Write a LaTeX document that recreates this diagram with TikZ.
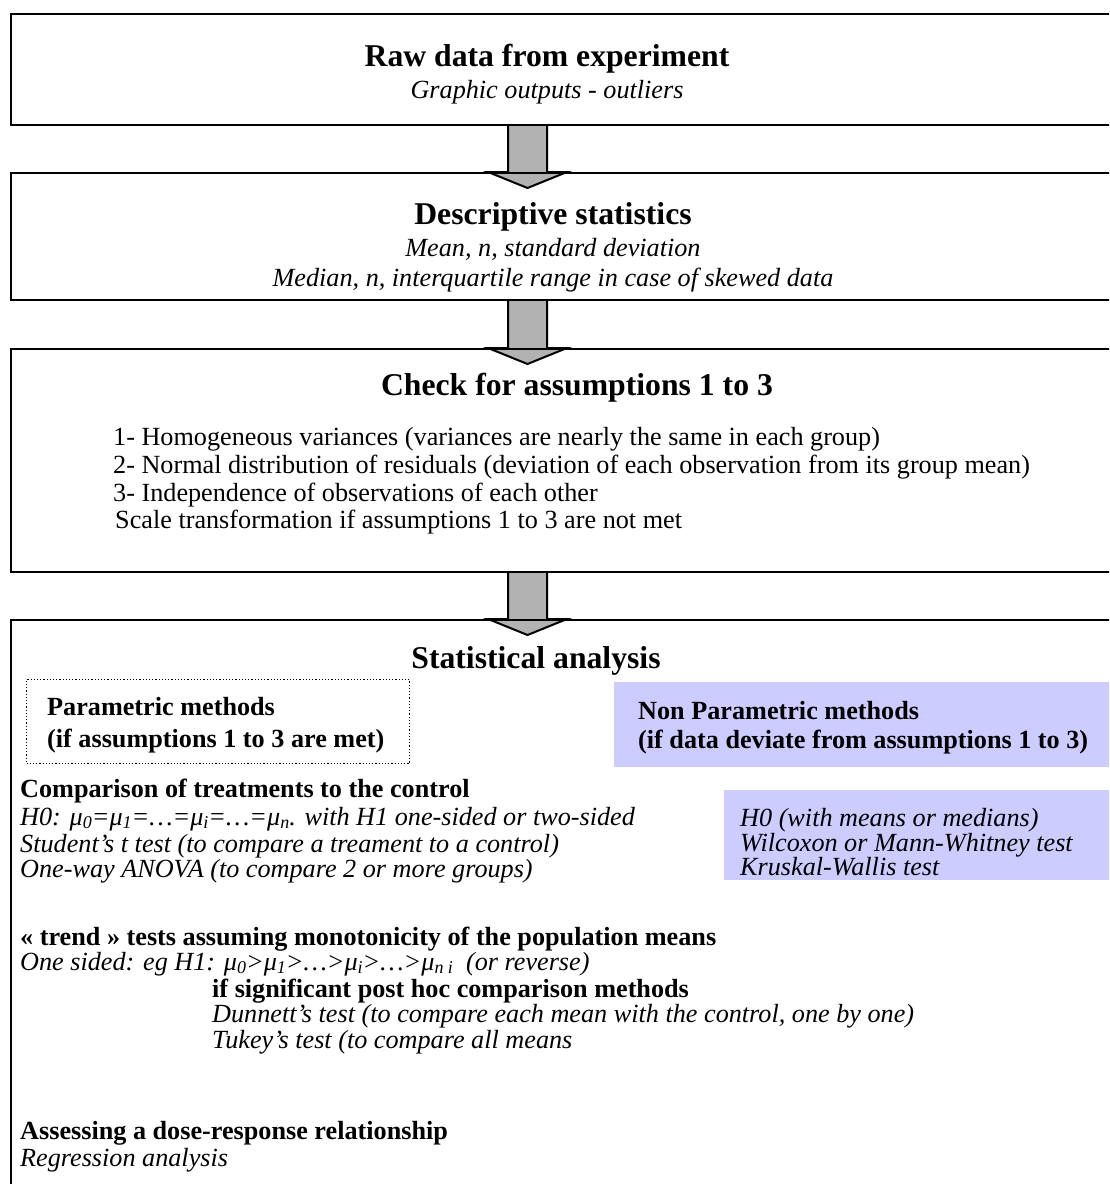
\documentclass[tikz,border=0pt]{standalone}
\usepackage{fontspec}
\setmainfont{Liberation Serif}
\usetikzlibrary{calc,backgrounds}
\definecolor{lav}{HTML}{CCCCFF}
\newcommand{\mysub}[1]{\raisebox{-0.13em}{\fontsize{18}{18}\selectfont #1}}
\begin{document}
\begin{tikzpicture}[x=1pt,y=-1pt,
  box/.style={draw, line width=2pt, minimum width=1115pt, anchor=north west, inner sep=0pt},
  head/.style={font=\fontsize{31.7}{38}\selectfont\bfseries, anchor=base, inner sep=0pt},
  ctxt/.style={font=\fontsize{26.2}{31}\selectfont\itshape, anchor=base, inner sep=0pt},
  txt/.style={font=\fontsize{26.2}{31}\selectfont, anchor=base west, inner sep=0pt},
  btxt/.style={font=\fontsize{26.2}{31}\selectfont\bfseries, anchor=base west, inner sep=0pt},
  itxt/.style={font=\fontsize{26.2}{31}\selectfont\itshape, anchor=base west, inner sep=0pt},
  blockarrow/.style={draw=black, line width=2pt, fill=gray!60, line join=miter},
  dotbox/.style={draw, dotted, line width=1.2pt, anchor=north west, inner sep=0pt},
  lavbox/.style={fill=lav, draw=none, anchor=north west, inner sep=0pt}
]
\useasboundingbox (0,0) rectangle (1109,1184);
\clip (0,0) rectangle (1109,1184);

% main boxes
\node[box, minimum height=111pt] (b1) at (10,13) {};
\node[box, minimum height=127pt] (b2) at (10,172) {};
\node[box, minimum height=223pt] (b3) at (10,348) {};
\node[box, minimum height=600pt] (b4) at (10,619) {};

% block arrows
\coordinate (ax) at (527.5,0);
\begin{scope}[on background layer]
\foreach \a/\b in {b1/b2,b2/b3,b3/b4}{
  \draw[blockarrow]
    ($(\a.south -| ax)+(-19.5,0)$) -- ($(\b.north -| ax)+(-19.5,0)$)
    -- ($(\b.north -| ax)+(-39.5,0)$) -- ($(\b.north -| ax)+(0,16)$)
    -- ($(\b.north -| ax)+(39.5,0)$) -- ($(\b.north -| ax)+(19.5,0)$)
    -- ($(\a.south -| ax)+(19.5,0)$);
}
\end{scope}

% box 1
\node[head] (h1) at (547,66) {Raw data from experiment};
\node[ctxt] (h1a) at (547,98) {Graphic outputs - outliers};

% box 2
\node[head] (h2) at (553,224) {Descriptive statistics};
\node[ctxt] (h2a) at (553,256) {Mean, n, standard deviation};
\node[ctxt] (h2b) at (553,286) {Median, n, interquartile range in case of skewed data};

% box 3
\node[head] (h3) at (577,395) {Check for assumptions 1 to 3};
\node[txt] (h3a) at (113,445) {1- Homogeneous variances (variances are nearly the same in each group)};
\node[txt] (h3b) at (113,473) {2- Normal distribution of residuals (deviation of each observation from its group mean)};
\node[txt] (h3c) at (113,501) {3- Independence of observations of each other};
\node[txt] (h3d) at (115,528) {Scale transformation if assumptions 1 to 3 are not met};

% box 4
\node[head] (h4) at (536,668) {Statistical analysis};

\node[dotbox, minimum width=383pt, minimum height=84pt] (pm) at (26,679) {};
\node[btxt] (pm1) at (47,715) {Parametric methods};
\node[btxt] (pm2) at (47,747) {(if assumptions 1 to 3 are met)};

\node[lavbox, minimum width=500pt, minimum height=85pt] (npm) at (614,682) {};
\node[btxt] (npm1) at (638,719) {Non Parametric methods};
\node[btxt] (npm2) at (638,748) {(if data deviate from assumptions 1 to 3)};

\node[lavbox, minimum width=400pt, minimum height=90pt] (npt) at (724,790) {};
\node[itxt] (npt1) at (740,826) {H0 (with means or medians)};
\node[itxt] (npt2) at (740,851) {Wilcoxon or Mann-Whitney test};
\node[itxt] (npt3) at (740,875) {Kruskal-Wallis test};

\node[btxt] (c0) at (20,797) {Comparison of treatments to the control};
\node[itxt] (c1) at (20,825) {H0: μ\mysub{0}=μ\mysub{1}=…=μ\mysub{i}=…=μ\mysub{n}. with H1 one-sided or two-sided};
\node[itxt] (c2) at (20,852) {Student’s t test (to compare a treament to a control)};
\node[itxt] (c3) at (20,877) {One-way ANOVA (to compare 2 or more groups)};

\node[btxt] (tr0) at (20,945) {« trend » tests assuming monotonicity of the population means};
\node[itxt] (tr1) at (20,970) {One sided: eg H1: μ\mysub{0}>μ\mysub{1}>…>μ\mysub{i}>…>μ\mysub{n i}\ \ (or reverse)};
\node[btxt] (ph0) at (212,997) {if significant post hoc comparison methods};
\node[itxt] (ph1) at (212,1022) {Dunnett’s test (to compare each mean with the control, one by one)};
\node[itxt] (ph2) at (212,1048) {Tukey’s test (to compare all means};

\node[btxt] (dr0) at (20,1139) {Assessing a dose-response relationship};
\node[itxt] (dr1) at (20,1166) {Regression analysis};
\end{tikzpicture}
\end{document}
